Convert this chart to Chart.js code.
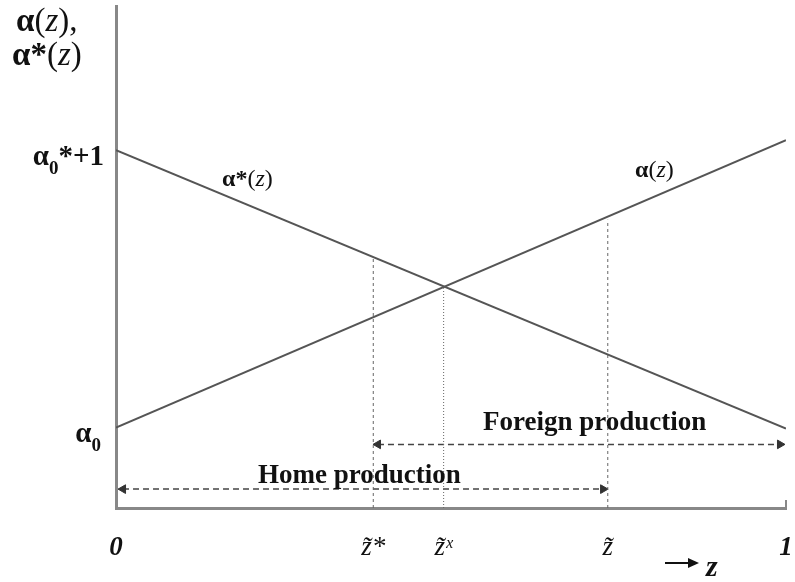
<!DOCTYPE html>
<html>
<head>
<meta charset="utf-8">
<script src="https://cdn.jsdelivr.net/npm/chart.js@4"></script>
<style>
  body { margin: 0; background: #fff; }
</style>
</head>
<body>
<canvas id="grafico" width="795" height="582"></canvas>
<script>
// datos del grafico
const zValues = [0, 1]
const alphaHome = [0.81, 3.70]      // alpha(z)
const alphaForeign = [3.60, 0.80]   // alpha*(z)

const cutZ = [0.384, 0.489, 0.734]  // z~*, z~x, z~
const cutTops = [2.53, 2.21, 2.90]

const tickZ = [0, 0.384, 0.489, 0.734, 1]
const tickLabels = ['0', 'z\u0303*', 'z\u0303\u02e3', 'z\u0303', '1']

const foreignRange = [0.391, 0.991]
const foreignLevel = 0.64
const homeRange = [0.0105, 0.727]
const homeLevel = 0.19

const SERIF = '"Liberation Serif", "DejaVu Serif", serif'

const linea = (xs, ys) => xs.map((x, i) => ({ x: x, y: ys[i] }))

const datasets = [
  {
    data: linea(zValues, alphaHome),
    borderColor: '#555', borderWidth: 2, pointRadius: 0
  },
  {
    data: linea(zValues, alphaForeign),
    borderColor: '#555', borderWidth: 2, pointRadius: 0
  }
]

for (let i = 0; i < cutZ.length; i++) {
  datasets.push({
    data: linea([cutZ[i], cutZ[i]], [0, cutTops[i]]),
    borderColor: '#666', borderWidth: 1,
    borderDash: i == 1 ? [1, 2] : [3, 3],
    pointRadius: 0
  })
}

const flecha = (range, level) => ({
  data: linea(range, [level, level]),
  borderColor: '#444', borderWidth: 1.5, borderDash: [6, 4],
  pointStyle: 'triangle', pointRadius: 5,
  pointRotation: [270, 90],
  pointBackgroundColor: '#333', pointBorderColor: '#333', pointBorderWidth: 1,
  clip: false
})
datasets.push(flecha(foreignRange, foreignLevel))
datasets.push(flecha(homeRange, homeLevel))

const drawRuns = (ctx, x, y, runs, align) => {
  let w = 0
  runs.forEach(r => { ctx.font = r.f; w += ctx.measureText(r.t).width })
  let cx = align == 'center' ? x - w / 2 : align == 'right' ? x - w : x
  runs.forEach(r => {
    ctx.font = r.f
    ctx.fillText(r.t, cx, y + (r.dy || 0))
    cx += ctx.measureText(r.t).width
  })
}

const fb = s => `bold ${s}px ${SERIF}`
const fi = s => `italic ${s}px ${SERIF}`
const fr = s => `${s}px ${SERIF}`

const textos = {
  id: 'textos',
  afterDraw(chart) {
    const ctx = chart.ctx
    const { x, y } = chart.scales
    ctx.save()
    ctx.fillStyle = '#111'
    ctx.textBaseline = 'alphabetic'

    // titulo eje y
    drawRuns(ctx, 16, 31, [{ t: 'α', f: fb(33) }, { t: '(', f: fr(33) }, { t: 'z', f: fi(33) }, { t: '),', f: fr(33) }], 'left')
    drawRuns(ctx, 12, 65, [{ t: 'α*', f: fb(33) }, { t: '(', f: fr(33) }, { t: 'z', f: fi(33) }, { t: ')', f: fr(33) }], 'left')

    // etiquetas eje y
    drawRuns(ctx, 104, y.getPixelForValue(alphaForeign[0]) + 15, [
      { t: 'α', f: fb(29) }, { t: '0', f: fb(19), dy: 9 }, { t: '*+1', f: fb(29) }
    ], 'right')
    drawRuns(ctx, 101, y.getPixelForValue(alphaHome[0]) + 15, [
      { t: 'α', f: fb(29) }, { t: '0', f: fb(19), dy: 9 }
    ], 'right')

    // etiquetas de las rectas
    drawRuns(ctx, 222, 186, [{ t: 'α*', f: fb(24) }, { t: '(', f: fr(24) }, { t: 'z', f: fi(24) }, { t: ')', f: fr(24) }], 'left')
    drawRuns(ctx, 635, 177, [{ t: 'α', f: fb(24) }, { t: '(', f: fr(24) }, { t: 'z', f: fi(24) }, { t: ')', f: fr(24) }], 'left')

    // produccion
    drawRuns(ctx, 483, 430, [{ t: 'Foreign production', f: fb(27) }], 'left')
    drawRuns(ctx, 258, 483, [{ t: 'Home production', f: fb(27) }], 'left')

    // titulo eje x
    ctx.strokeStyle = '#111'
    ctx.lineWidth = 2
    ctx.beginPath()
    ctx.moveTo(665, 563)
    ctx.lineTo(690, 563)
    ctx.stroke()
    ctx.beginPath()
    ctx.moveTo(699, 563)
    ctx.lineTo(688, 558)
    ctx.lineTo(688, 568)
    ctx.closePath()
    ctx.fill()
    drawRuns(ctx, 706, 576, [{ t: 'z', f: `bold italic 30px ${SERIF}` }], 'left')

    // marca final del eje x
    ctx.strokeStyle = '#888'
    ctx.lineWidth = 2
    ctx.beginPath()
    ctx.moveTo(x.right, x.top)
    ctx.lineTo(x.right, x.top - 8)
    ctx.stroke()
    ctx.restore()
  }
}

const config = {
  type: 'line',
  data: { datasets: datasets },
  options: {
    responsive: false,
    animation: false,
    layout: { padding: { top: 3, right: 9, left: 0, bottom: 0 } },
    plugins: { legend: { display: false }, tooltip: { enabled: false } },
    scales: {
      x: {
        type: 'linear', min: 0, max: 1,
        grid: { display: false },
        border: { display: true, color: '#888', width: 3 },
        afterBuildTicks: scale => { scale.ticks = tickZ.map(v => ({ value: v })) },
        afterFit: scale => {
          scale.height = 74
          scale.paddingLeft = 0
          scale.paddingRight = 0
        },
        ticks: {
          autoSkip: false, maxRotation: 0, padding: 16, color: '#111',
          callback: (v, i) => tickLabels[i],
          font: c => (c.index == 0 || c.index == tickZ.length - 1)
            ? { family: SERIF, size: 27, style: 'italic', weight: 'bold' }
            : { family: SERIF, size: 27, style: 'italic', weight: 'normal' }
        }
      },
      y: {
        type: 'linear', min: 0, max: 5.05,
        grid: { display: false },
        border: { display: true, color: '#888', width: 3 },
        ticks: { display: false },
        afterFit: scale => { scale.width = 116 }
      }
    }
  },
  plugins: [textos]
}

const myChart = new Chart(document.getElementById('grafico'), config)
</script>
</body>
</html>
